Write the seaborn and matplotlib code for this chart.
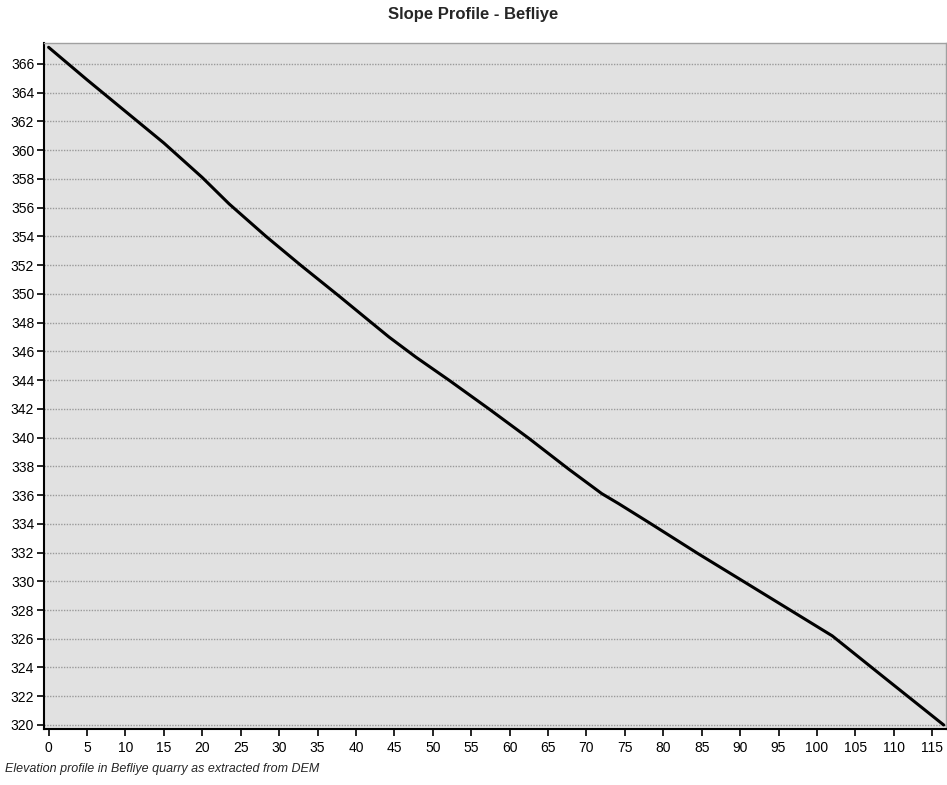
import matplotlib
matplotlib.use("Agg")
import matplotlib.pyplot as plt
import seaborn as sns
import pandas as pd

distance = [0, 5, 10, 15, 20, 23.5, 28.3, 32.8, 37.8, 41.9, 44.3, 47.8, 52.1, 57.3, 62.5,
            67.7, 72.0, 74.2, 78.1, 84.6, 89.8, 95.9, 102.0, 109.0, 116.5]
elevation = [367.16, 364.9, 362.7, 360.5, 358.1, 356.26, 354.0, 352.0, 349.85, 348.05,
             347.0, 345.6, 344.0, 342.0, 339.95, 337.8, 336.1, 335.4, 334.1, 331.9,
             330.2, 328.2, 326.2, 323.2, 320.0]
x_ticks = list(range(0, 116, 5))
y_ticks = list(range(320, 367, 2))
title = "Slope Profile - Befliye"
caption = "Elevation profile in Befliye quarry as extracted from DEM"

sns.set_theme(style="white")
plt.rcParams['font.family'] = ['Liberation Sans', 'DejaVu Sans']

df = pd.DataFrame({"distance": distance, "elevation": elevation})

fig = plt.figure(figsize=(9.47, 7.85), dpi=100)
ax = fig.add_axes([44/947, 1 - 729/785, (946-44)/947, (729-43)/785])
ax.set_facecolor("#e1e1e1")

sns.lineplot(data=df, x="distance", y="elevation", ax=ax, color="black",
             linewidth=2.2, zorder=3)

ax.set_xlim(-0.6, 116.8)
ax.set_ylim(319.72, 367.46)
ax.set_xticks(x_ticks)
ax.set_yticks(y_ticks)
ax.set_xlabel("")
ax.set_ylabel("")
ax.grid(False)
ax.yaxis.grid(True, linestyle=(0, (1, 1)), color="#9a9a9a", linewidth=1.0)
ax.xaxis.grid(False)
ax.tick_params(axis="both", direction="out", length=5, width=1.2, color="black",
               labelsize=10, labelcolor="black", pad=2,
               bottom=True, left=True)
ax.tick_params(axis="x", pad=4)
for s in ["left", "bottom"]:
    ax.spines[s].set_color("black")
    ax.spines[s].set_linewidth(1.5)
for s in ["top", "right"]:
    ax.spines[s].set_color("#a0a0a0")
    ax.spines[s].set_linewidth(1.0)

fig.text(473/947, 1 - 15/785, title, ha="center", va="center",
         fontsize=12, fontweight="bold")
fig.text(5/947, 1 - 769/785, caption, ha="left", va="center",
         fontsize=9, style="italic")

fig.savefig("out.png", dpi=100, facecolor="white")
